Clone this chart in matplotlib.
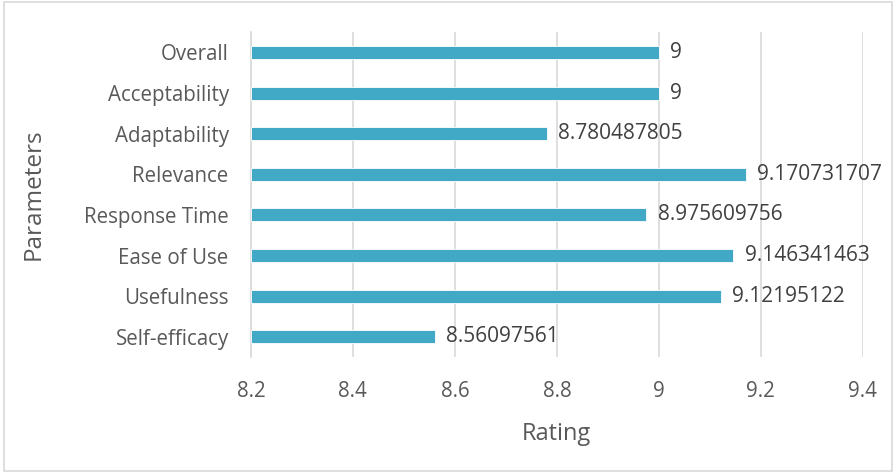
import matplotlib
matplotlib.use("Agg")
import matplotlib.pyplot as plt
from matplotlib.patches import Rectangle

categories = ["Self-efficacy", "Usefulness", "Ease of Use", "Response Time",
              "Relevance", "Adaptability", "Acceptability", "Overall"]
values = [8.56097561, 9.12195122, 9.146341463, 8.975609756,
          9.170731707, 8.780487805, 9.0, 9.0]
labels = ["8.56097561", "9.12195122", "9.146341463", "8.975609756",
          "9.170731707", "8.780487805", "9", "9"]
xticks = [8.2, 8.4, 8.6, 8.8, 9.0, 9.2, 9.4]
xtick_labels = ["8.2", "8.4", "8.6", "8.8", "9", "9.2", "9.4"]

plt.rcParams['font.family'] = ['Open Sans', 'DejaVu Sans']
txt = "#595959"

fig = plt.figure(figsize=(8.96, 4.73), dpi=100)
ax = fig.add_axes([0.280, 0.245, 0.683, 0.687])

base = 8.2
ax.barh(range(len(categories)), [v - base for v in values], left=base,
        height=0.32, color="#41A8C5", edgecolor="white", linewidth=0.6, zorder=3)
for i, (v, l) in enumerate(zip(values, labels)):
    ax.text(v + 0.022, i, l, va="center", ha="left", fontsize=15, color="#404040")

ax.set_xlim(8.2, 9.4)
ax.set_ylim(-0.5, len(categories) - 0.5)
ax.set_xticks(xticks)
ax.set_xticklabels(xtick_labels)
ax.set_yticks(range(len(categories)))
ax.set_yticklabels(categories)
ax.tick_params(axis="both", length=0, labelsize=14.8, colors=txt)
ax.tick_params(axis="x", pad=17)
ax.tick_params(axis="y", pad=16)
ax.grid(axis="x", color="#D9D9D9", linewidth=1.2, zorder=0)
for s in ["top", "right", "bottom"]:
    ax.spines[s].set_visible(False)
ax.spines["left"].set_color("#D9D9D9")
ax.spines["left"].set_linewidth(1.2)
ax.set_xlabel("Rating", fontsize=17, color=txt)
ax.xaxis.set_label_coords(0.5, -0.2)
ax.set_ylabel("Parameters", fontsize=17.5, color=txt)
ax.yaxis.set_label_coords(-0.335, 0.5)

fig.patches.append(Rectangle((0.004, 0.004), 0.992, 0.992, transform=fig.transFigure,
                             fill=False, edgecolor="#D9D9D9", linewidth=1.2))
fig.savefig("out.png", dpi=100)
